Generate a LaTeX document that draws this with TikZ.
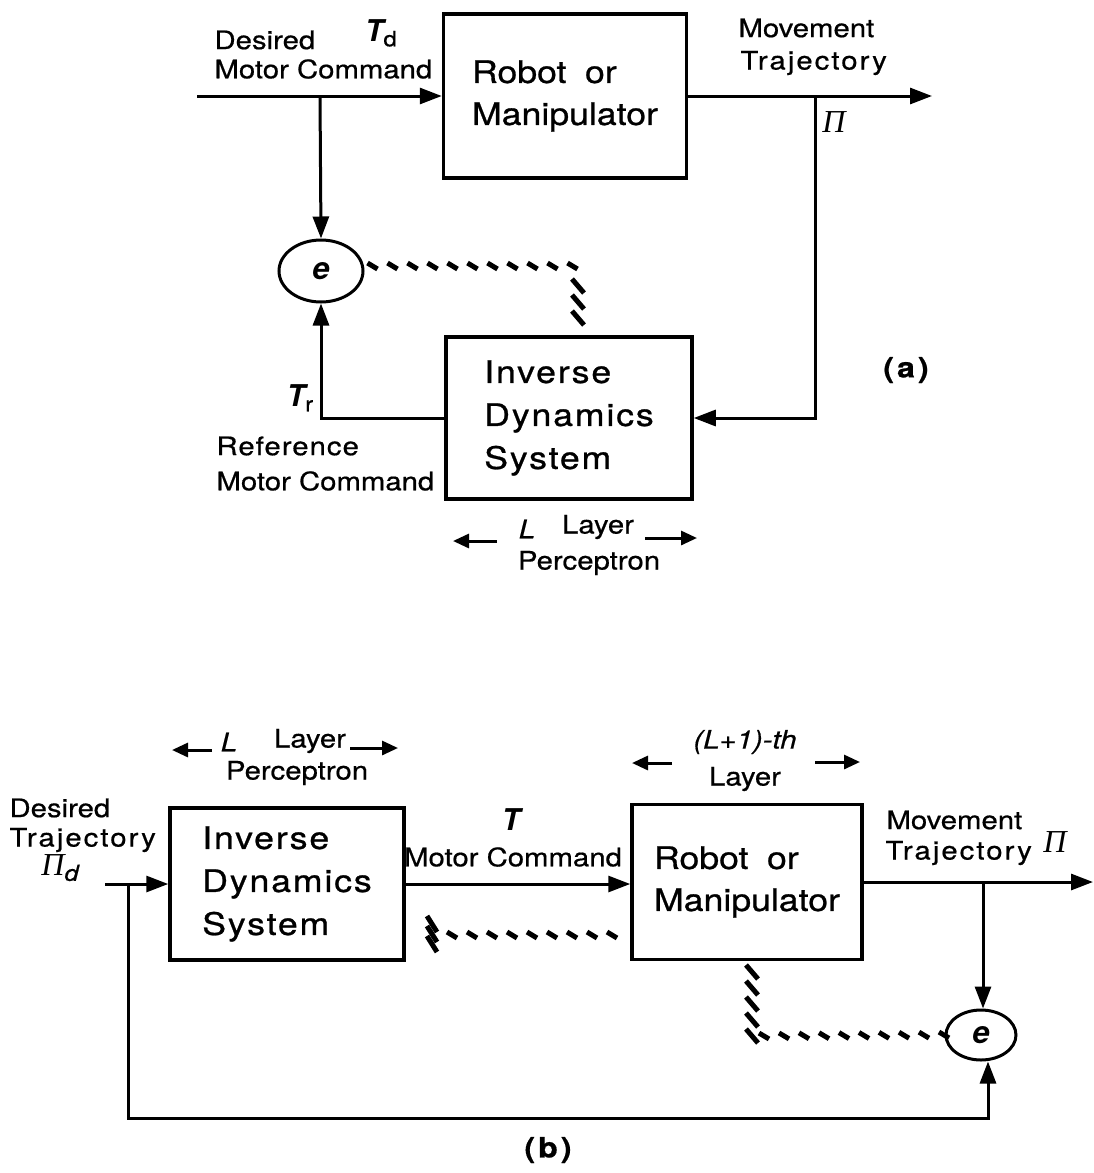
\documentclass[tikz,border=0pt]{standalone}
\usepackage{fontspec}
\setmainfont{TeX Gyre Heros}
\newfontfamily\boxfont[FakeStretch=1.15,FakeBold=0.8]{TeX Gyre Heros}
\newfontfamily\boxsp[FakeStretch=1.15,FakeBold=0.8,LetterSpace=6]{TeX Gyre Heros}
\newfontfamily\lblfont[FakeStretch=1.15,FakeBold=0.6]{TeX Gyre Heros}
\newfontfamily\lblsp[FakeStretch=1.15,FakeBold=0.6,LetterSpace=8]{TeX Gyre Heros}
\newfontfamily\lblsq[FakeStretch=1.15,FakeBold=0.6,LetterSpace=4]{TeX Gyre Heros}
\newfontfamily\grk{Liberation Serif}
\usetikzlibrary{arrows.meta,decorations.markings,shapes.geometric,calc}
\begin{document}
\begin{tikzpicture}[x=1pt,y=-1pt, line width=3pt,
  box/.style={draw, line width=3.5pt, align=left, inner sep=0pt, font=\boxfont\fontsize{31}{42}\selectfont},
  boxi/.style={box, font=\boxsp\fontsize{31}{43}\selectfont},
  lbl/.style={inner sep=0pt, font=\lblfont\fontsize{25.5}{28}\selectfont},
  arr/.style={-{Triangle[length=22pt,width=16pt]}},
  sarr/.style={-{Triangle[length=16pt,width=14pt]}},
  errnode/.style={draw, ellipse, line width=3pt, inner sep=0pt, font=\fontsize{31}{31}\selectfont\bfseries\itshape},
  hmark/.style={line width=5pt, line cap=butt},
  hatchh/.style={decoration={markings, mark=between positions 0 and 1 step 20pt with {\draw[hmark] (-5pt,3pt)--(5pt,-3pt);}}, postaction={decorate}},
  hatchv/.style={decoration={markings, mark=between positions 0 and 1 step 16pt with {\draw[hmark] (-7pt,-6pt)--(7pt,6pt);}}, postaction={decorate}},
  hatchs/.style={decoration={markings, mark=between positions 0 and 1 step 10pt with {\draw[hmark] (-8pt,-5pt)--(8pt,5pt);}}, postaction={decorate}},
]
\useasboundingbox[fill=white] (0,0) rectangle (1093,1173);

% ---------------- (a) ----------------
\node[box, minimum width=243pt, minimum height=164pt] (robA) at (565,96) {Robot\hspace{0.6em}or\\Manipulator};
\node[boxi, minimum width=246pt, minimum height=162pt] (invA) at (569,418) {Inverse\\Dynamics\\System};
\node[errnode, minimum width=84pt, minimum height=62pt] (eA) at (321,271) {e};
\coordinate (inA) at (197,96);
\coordinate (jA) at (320,96);
\coordinate (outA) at (932,96);
\coordinate (kA) at (815,96);
\coordinate (hA) at (578,266);
\coordinate (hA1) at (578,286);
\coordinate (hA2) at (578,322);

\draw (inA) -- (jA);
\draw[arr] (jA) -- (robA.west);
\draw[arr] (jA) -- (eA.north);
\draw[arr] (robA.east) -- (outA);
\draw[arr] (kA) |- (invA.east);
\draw[arr] (invA.west) -| (eA.south);
\path[hatchh] ($(eA.east)+(8,-5)$) -- (hA);
\path[hatchv] (hA1) -- (hA2);

\node[lbl, anchor=west] (desA) at (213,40) {Desired};
\node[lbl, anchor=west] (mcA) at (213,69) {Motor Command};
\node[inner sep=0pt] (tdA) at (381,33) {\fontsize{30}{30}\selectfont\bfseries\itshape T\raisebox{-5pt}{\lblfont\fontsize{21}{21}\selectfont\mdseries\upshape d}};
\node[lbl, anchor=west] (mvA) at (737,28) {Movement};
\node[lbl, anchor=west, font=\lblsp\fontsize{25.5}{28}\selectfont] (trA) at (739,63) {Trajectory};
\node[inner sep=0pt] (piA) at (834,122) {\grk\fontsize{32}{32}\selectfont\itshape Π};
\node[inner sep=0pt] (trfA) at (300,398) {\fontsize{30}{30}\selectfont\bfseries\itshape T\raisebox{-5pt}{\lblfont\fontsize{21}{21}\selectfont\mdseries\upshape r}};
\node[lbl, anchor=west, font=\lblsq\fontsize{25.5}{28}\selectfont] (refA) at (215,446) {Reference};
\node[lbl, anchor=west] (rmcA) at (215,481) {Motor Command};
\node[lbl] (LA) at (527,529) {\itshape L};
\node[lbl] (layA) at (598,527) {Layer};
\node[lbl] (perA) at (589,563) {Perceptron};
\coordinate (lA1) at (497,541); \coordinate (lA2) at (453,541);
\coordinate (lA3) at (645,538); \coordinate (lA4) at (697,538);
\draw[sarr] (lA1) -- (lA2);
\draw[sarr] (lA3) -- (lA4);
\node[inner sep=0pt, font=\lblfont\fontsize{28}{28}\selectfont\bfseries] (capA) at (906,370) {(\hspace{3pt}a\hspace{3pt})};

% ---------------- (b) ----------------
\node[boxi, minimum width=234pt, minimum height=152pt] (invB) at (287,884) {Inverse\\Dynamics\\System};
\node[box, minimum width=230pt, minimum height=155pt] (robB) at (747,882) {Robot\hspace{0.6em}or\\Manipulator};
\node[errnode, minimum width=70pt, minimum height=50pt] (eB) at (981,1035) {e};
\coordinate (inB) at (105,884);
\coordinate (jB) at (128,884);
\coordinate (outB) at (1093,882);
\coordinate (kB) at (983,882);
\coordinate (fbB) at (128,1118);

\draw (inB) -- (jB);
\draw[arr] (jB) -- (invB.west);
\draw[arr] (invB.east) -- (invB.east -| robB.west);
\draw[arr] (robB.east) -- (outB);
\draw[arr] (kB) -- (kB |- eB.north);
\draw[arr] (jB) -- (fbB) -| ($(eB.south)+(7,0)$);

\coordinate (hB1) at (452,935);
\path[hatchh] (hB1) -- (hB1 -| robB.west);
\coordinate (hB0) at (432,924); \coordinate (hB0b) at (432,945);
\path[hatchs] (hB0) -- (hB0b);
\coordinate (hB2) at (752,972);
\coordinate (hB3) at (752,1036);
\coordinate (hB4) at (764,1036);
\path[hatchv] (hB2) -- (hB3);
\path[hatchh] (hB4) -- (eB.west);

\node[lbl, anchor=west] (desB) at (8,808) {Desired};
\node[lbl, anchor=west, font=\lblsp\fontsize{25.5}{28}\selectfont] (trjB) at (8,840) {Trajectory};
\node[inner sep=0pt] (pidB) at (60,868) {\grk\fontsize{32}{32}\selectfont\itshape Π\raisebox{-5pt}{\lblfont\fontsize{22}{22}\selectfont\itshape d}};
\node[lbl] (LB) at (229,742) {\itshape L};
\node[lbl] (layB) at (310,741) {Layer};
\node[lbl] (perB) at (297,773) {Perceptron};
\coordinate (lB1) at (212,750); \coordinate (lB2) at (172,750);
\coordinate (lB3) at (350,748); \coordinate (lB4) at (398,748);
\draw[sarr] (lB1) -- (lB2);
\draw[sarr] (lB3) -- (lB4);
\node[inner sep=0pt] (tB) at (511,820) {\fontsize{30}{30}\selectfont\bfseries\itshape T};
\node[lbl] (mcB) at (513,857) {Motor Command};
\node[lbl] (lp1B) at (745,742) {\itshape (L+1)-th};
\node[lbl] (layB2) at (745,779) {Layer};
\coordinate (lC1) at (672,763); \coordinate (lC2) at (632,763);
\coordinate (lC3) at (815,762); \coordinate (lC4) at (860,762);
\draw[sarr] (lC1) -- (lC2);
\draw[sarr] (lC3) -- (lC4);
\node[lbl, anchor=west] (mvB) at (885,820) {Movement};
\node[lbl, anchor=west, font=\lblsp\fontsize{25.5}{28}\selectfont] (trB) at (884,853) {Trajectory};
\node[inner sep=0pt] (piB) at (1055,842) {\grk\fontsize{32}{32}\selectfont\itshape Π};
\node[inner sep=0pt, font=\lblfont\fontsize{28}{28}\selectfont\bfseries] (capB) at (548,1150) {(\hspace{3pt}b\hspace{3pt})};
\end{tikzpicture}
\end{document}
